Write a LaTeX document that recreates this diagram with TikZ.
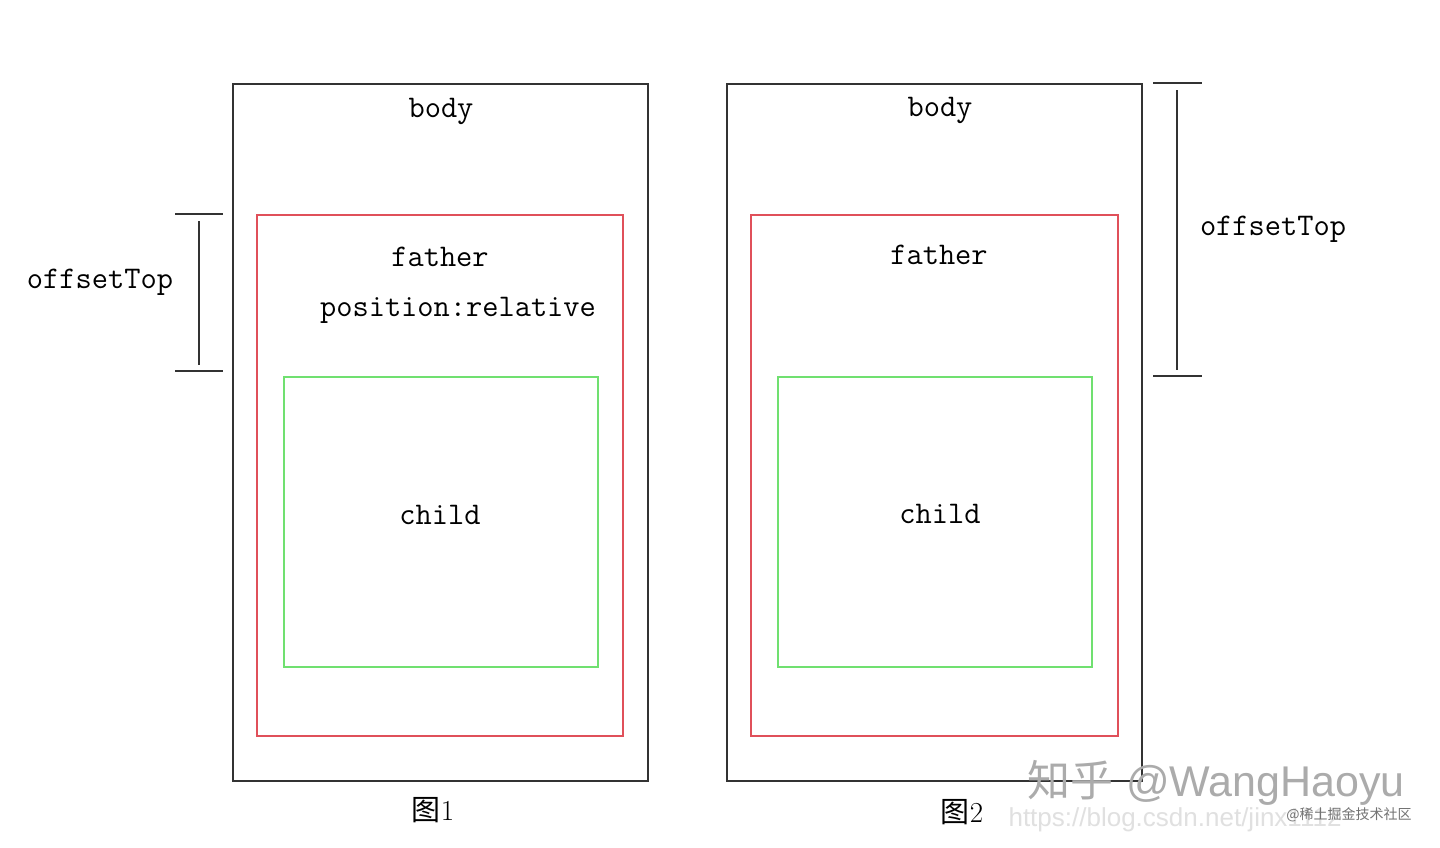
\documentclass[tikz,border=0pt]{standalone}
\usepackage{fontspec}
\newfontfamily\cjk{Noto Sans CJK SC}
\newfontfamily\wmfont{Liberation Sans}
\definecolor{boxblack}{HTML}{333333}
\definecolor{boxred}{HTML}{E0505A}
\definecolor{boxgreen}{HTML}{70E070}
\tikzset{
  bodybox/.style={draw=boxblack, line width=2pt},
  fatherbox/.style={draw=boxred, line width=1.8pt},
  childbox/.style={draw=boxgreen, line width=1.8pt},
  lbl/.style={font=\ttfamily\fontsize{31.5}{37}\selectfont, text=black, inner sep=0pt},
  figcaption/.style={font=\fontsize{29}{34}\selectfont, text=black, inner sep=0pt},
  tickline/.style={draw=boxblack, line width=2pt},
}
\begin{document}
\begin{tikzpicture}[x=1pt,y=-1pt]
\useasboundingbox (0,0) rectangle (1440,847);
\fill[white] (0,0) rectangle (1440,847);

% ---------- Figure 1 ----------
\node[bodybox, minimum width=415pt, minimum height=697pt, anchor=north west, inner sep=0pt] (body1) at (232,83) {};
\node[fatherbox, minimum width=366pt, minimum height=521pt, anchor=north west, inner sep=0pt] (father1) at (256,214) {};
\node[childbox, minimum width=314pt, minimum height=290pt, anchor=north west, inner sep=0pt] (child1) at (283,376) {};
\node[lbl] (tbody1) at (441,111) {body};
\node[lbl] (tfather1) at (440,257) {father};
\node[lbl] (tpos1) at (458,310) {position:relative};
\node[lbl] (tchild1) at (440,515) {child};
\node[figcaption] (cap1) at (433,810) {{\cjk 图}1};

% bracket 1
\coordinate (b1t1) at (175,214);
\coordinate (b1t2) at (223,214);
\coordinate (b1b1) at (175,371);
\coordinate (b1b2) at (223,371);
\coordinate (b1v1) at (199,221);
\coordinate (b1v2) at (199,365);
\draw[tickline] (b1t1) -- (b1t2);
\draw[tickline] (b1b1) -- (b1b2);
\draw[tickline] (b1v1) -- (b1v2);
\node[lbl] (off1) at (100,282) {offsetTop};

% ---------- Figure 2 ----------
\node[bodybox, minimum width=415pt, minimum height=697pt, anchor=north west, inner sep=0pt] (body2) at (726,83) {};
\node[fatherbox, minimum width=367pt, minimum height=521pt, anchor=north west, inner sep=0pt] (father2) at (750,214) {};
\node[childbox, minimum width=314pt, minimum height=290pt, anchor=north west, inner sep=0pt] (child2) at (777,376) {};
\node[lbl] (tbody2) at (940,110) {body};
\node[lbl] (tfather2) at (939,255) {father};
\node[lbl] (tchild2) at (940,514) {child};
\node[figcaption] (cap2) at (962,812) {{\cjk 图}2};

% bracket 2
\coordinate (b2t1) at (1153,83);
\coordinate (b2t2) at (1202,83);
\coordinate (b2b1) at (1153,376);
\coordinate (b2b2) at (1202,376);
\coordinate (b2v1) at (1177,90);
\coordinate (b2v2) at (1177,370);
\draw[tickline] (b2t1) -- (b2t2);
\draw[tickline] (b2b1) -- (b2b2);
\draw[tickline] (b2v1) -- (b2v2);
\node[lbl] (off2) at (1273,229) {offsetTop};

% ---------- watermarks ----------
\node[inner sep=0pt, text=black!12, font=\wmfont\fontsize{26}{30}\selectfont] (wm3) at (1175,820) {https://blog.csdn.net/jinx1112};
\node[inner sep=0pt, text=black!33, font=\fontsize{43}{50}\selectfont] (wm1) at (1216,783) {{\cjk 知乎} {\wmfont @WangHaoyu}};
\node[inner sep=0pt, text=black!55, font=\cjk\fontsize{14}{16}\selectfont] (wm2) at (1349,815) {@稀土掘金技术社区};
\end{tikzpicture}
\end{document}
